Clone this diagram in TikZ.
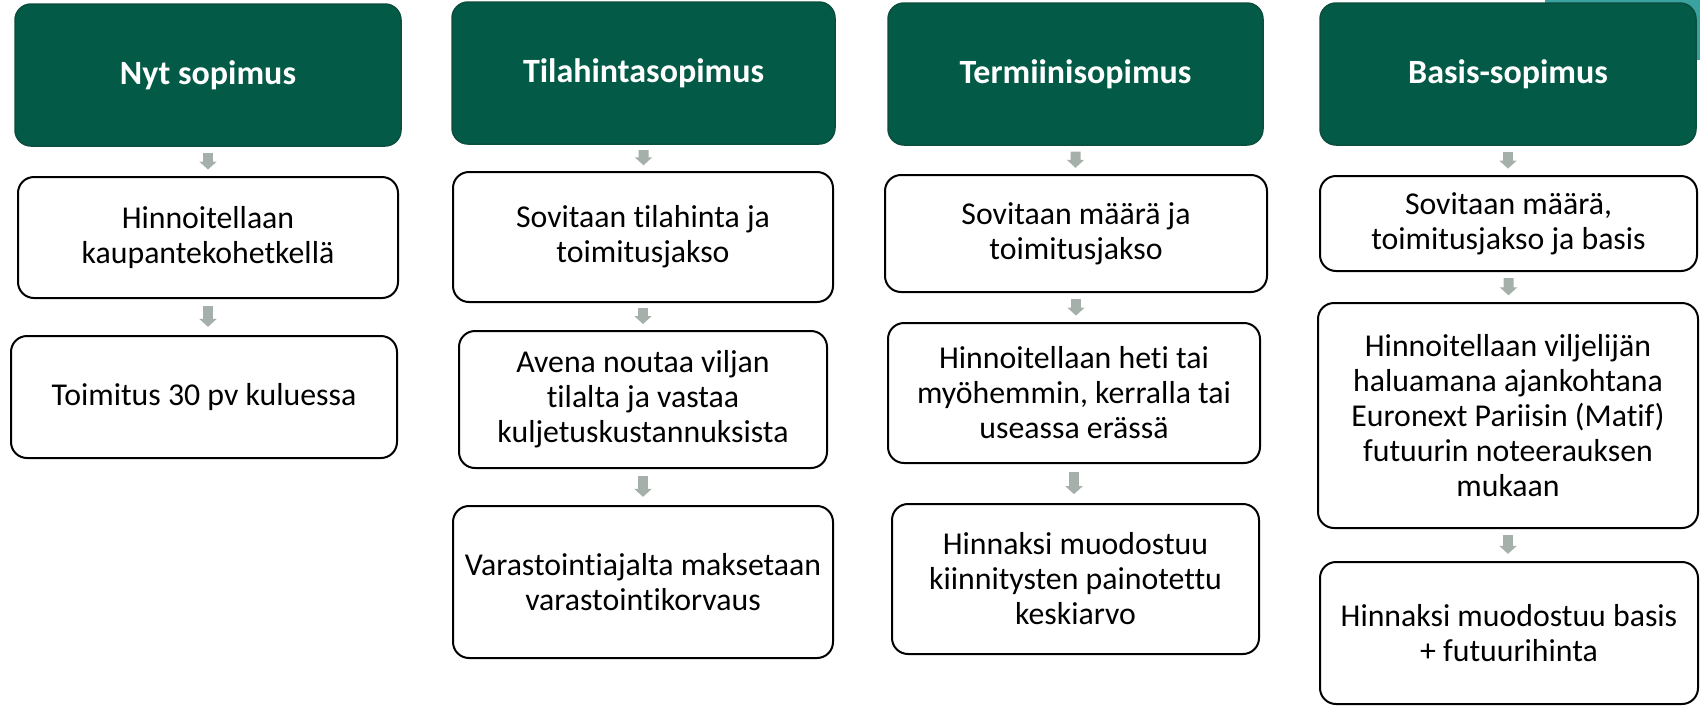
\documentclass[tikz,border=0pt]{standalone}
\usepackage{fontspec}
\setmainfont{Carlito}[Ligatures=NoCommon]
\usetikzlibrary{calc,arrows.meta}
\definecolor{hdrgreen}{HTML}{035B47}
\definecolor{hdrborder}{HTML}{0B4E3E}
\definecolor{arrowgray}{HTML}{A6B0AA}
\definecolor{tealdeco}{HTML}{3AA39F}
\tikzset{
  hdr/.style={draw=hdrborder, line width=1.5pt, fill=hdrgreen, rounded corners=16pt,
    text=white, font=\bfseries\fontsize{34pt}{39pt}\selectfont, align=center,
    inner sep=0pt, outer sep=0pt},
  body/.style={draw=black, line width=2pt, fill=white, rounded corners=16pt,
    font=\fontsize{31.8pt}{35pt}\selectfont, align=center, inner sep=0pt, outer sep=0pt},
  blockarrow/.style={draw=arrowgray, line width=10pt,
    -{Triangle[length=8pt,width=17pt]}}
}
\newcommand{\flowarrow}[2]{%
  \draw[blockarrow] ($(#1.south)!0.22!(#1.south|-#2.north)$) -- ($(#1.south)!0.76!(#1.south|-#2.north)$);}
\begin{document}
\begin{tikzpicture}[x=1pt,y=-1pt]
\useasboundingbox (0,0) rectangle (1700,705);
\fill[white] (0,0) rectangle (1700,705);
\fill[tealdeco] (1545,0) rectangle (1700,60);
% headers
\node[hdr, minimum width=386pt, minimum height=142pt] (h1) at (208,75) {Nyt sopimus};
\node[hdr, minimum width=383pt, minimum height=142pt] (h2) at (643.5,73) {Tilahintasopimus};
\node[hdr, minimum width=375pt, minimum height=142pt] (h3) at (1075.5,74) {Termiinisopimus};
\node[hdr, minimum width=376pt, minimum height=142pt] (h4) at (1508,74) {Basis-sopimus};
% column 1
\node[body, minimum width=380pt, minimum height=121pt] (b11) at (208,237.5) {Hinnoitellaan\\kaupantekohetkellä};
\node[body, minimum width=386pt, minimum height=122pt] (b12) at (204,397) {Toimitus 30 pv kuluessa};
% column 2
\node[body, minimum width=380pt, minimum height=130pt] (b21) at (643,237) {Sovitaan tilahinta ja\\toimitusjakso};
\node[body, minimum width=368pt, minimum height=137pt] (b22) at (643,399.5) {Avena noutaa viljan\\tilalta ja vastaa\\kuljetuskustannuksista};
\node[body, minimum width=380pt, minimum height=152pt] (b23) at (643,582) {Varastointiajalta maksetaan\\varastointikorvaus};
% column 3
\node[body, minimum width=382pt, minimum height=117pt] (b31) at (1076,233.5) {Sovitaan määrä ja\\toimitusjakso};
\node[body, minimum width=372pt, minimum height=140pt] (b32) at (1074,393) {Hinnoitellaan heti tai\\myöhemmin, kerralla tai\\useassa erässä};
\node[body, minimum width=367pt, minimum height=150pt] (b33) at (1075.5,579) {Hinnaksi muodostuu\\kiinnitysten painotettu\\keskiarvo};
% column 4
\node[body, minimum width=377pt, minimum height=95pt] (b41) at (1508.5,223.5) {Sovitaan määrä,\\toimitusjakso ja basis};
\node[body, minimum width=380pt, minimum height=225pt] (b42) at (1508,415.5) {Hinnoitellaan viljelijän\\haluamana ajankohtana\\Euronext Pariisin (Matif)\\futuurin noteerauksen\\mukaan};
\node[body, minimum width=378pt, minimum height=142pt] (b43) at (1509,633) {Hinnaksi muodostuu basis\\+ futuurihinta};
% arrows
\flowarrow{h1}{b11}
\flowarrow{b11}{b12}
\flowarrow{h2}{b21}
\flowarrow{b21}{b22}
\flowarrow{b22}{b23}
\flowarrow{h3}{b31}
\flowarrow{b31}{b32}
\flowarrow{b32}{b33}
\flowarrow{h4}{b41}
\flowarrow{b41}{b42}
\flowarrow{b42}{b43}
\end{tikzpicture}
\end{document}
